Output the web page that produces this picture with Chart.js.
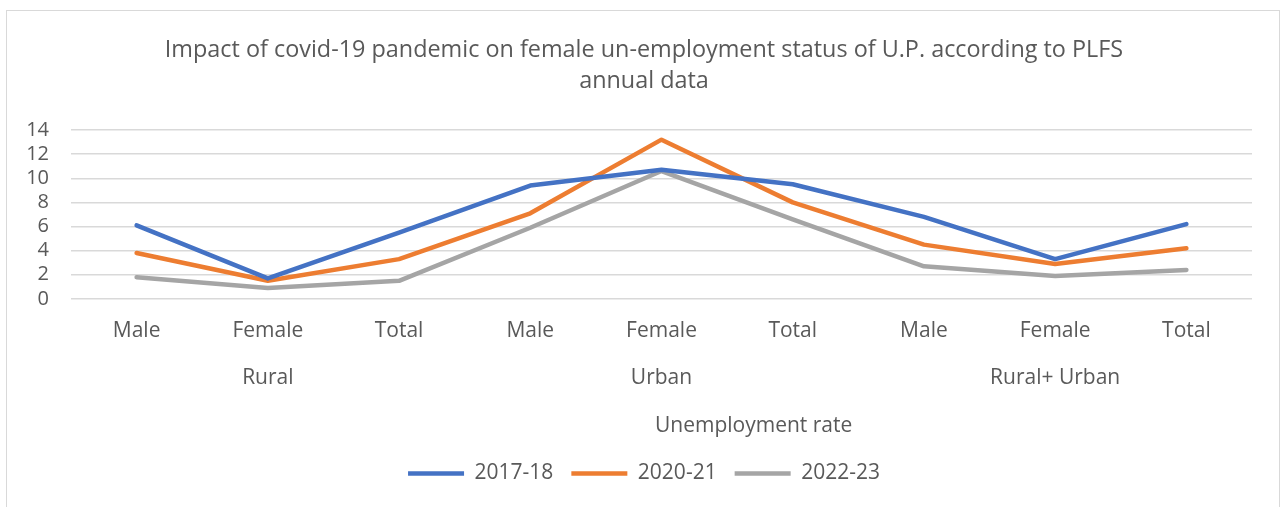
<!DOCTYPE html>
<html>
<head>
<meta charset="utf-8">
<script src="https://cdn.jsdelivr.net/npm/chart.js@4/dist/chart.umd.min.js"></script>
<style>
  html, body { margin: 0; padding: 0; background: #fff; }
  #box {
    position: absolute; left: 6px; top: 10px;
    width: 1272px; height: 520px;
    border: 1px solid #d9d9d9;
  }
</style>
</head>
<body>
<div id="box"><canvas id="chart"></canvas></div>
<script>
// Unemployment rate (%) by area and sex, PLFS annual rounds
const years = ['2017-18', '2020-21', '2022-23'];
const subCategories = ['Male', 'Female', 'Total', 'Male', 'Female', 'Total', 'Male', 'Female', 'Total'];
const groups = ['Rural', 'Urban', 'Rural+ Urban'];
const rate2017 = [6.1, 1.7, 5.5, 9.4, 10.7, 9.5, 6.8, 3.3, 6.2];
const rate2020 = [3.8, 1.5, 3.3, 7.1, 13.2, 8.0, 4.5, 2.9, 4.2];
const rate2022 = [1.8, 0.9, 1.5, 5.9, 10.6, 6.6, 2.7, 1.9, 2.4];
const colors = ['#4472C4', '#ED7D31', '#A5A5A5'];
const axisTitle = 'Unemployment rate';

// two-row category labels: sub category, group name under the middle one
const labels = subCategories.map((s, i) => [s, i % 3 === 1 ? groups[Math.floor(i / 3)] : '']);

const textColor = '#595959';
const fontFamily = '"Open Sans", sans-serif';

// draws the x axis title in the space added by afterFit
const axisTitlePlugin = {
    id: 'axisTitle',
    afterDraw(chart) {
        const xs = chart.scales.x;
        const ctx = chart.ctx;
        ctx.save();
        ctx.font = '21px ' + fontFamily;
        ctx.fillStyle = textColor;
        ctx.textAlign = 'center';
        ctx.textBaseline = 'middle';
        ctx.fillText(axisTitle, xs.left + xs.width * 0.578, xs.bottom - 19);
        ctx.restore();
    }
};

const seriesData = [rate2017, rate2020, rate2022];

new Chart(document.getElementById('chart').getContext('2d'), {
    type: 'line',
    data: {
        labels: labels,
        datasets: years.map((y, i) => ({
            label: y,
            data: seriesData[i],
            borderColor: colors[i],
            backgroundColor: colors[i],
            borderWidth: 4.5,
            borderCapStyle: 'round',
            borderJoinStyle: 'round',
            pointRadius: 0,
            tension: 0
        }))
    },
    options: {
        responsive: true,
        maintainAspectRatio: false,
        animation: false,
        layout: {
            padding: { left: 18, right: 16, top: 0, bottom: 37 }
        },
        plugins: {
            title: {
                display: true,
                text: ['Impact of covid-19 pandemic on female un-employment status of U.P. according to PLFS', 'annual data'],
                color: textColor,
                font: { family: fontFamily, size: 23.4, weight: 'normal', lineHeight: 1.325 },
                padding: { top: 24, bottom: 33 }
            },
            legend: {
                position: 'bottom',
                labels: {
                    color: textColor,
                    font: { family: fontFamily, size: 21 },
                    usePointStyle: true,
                    pointStyle: 'line',
                    pointStyleWidth: 56,
                    boxHeight: 8,
                    padding: 18
                }
            },
            tooltip: { enabled: false }
        },
        scales: {
            x: {
                offset: true,
                grid: { display: false, drawTicks: false },
                border: { display: false },
                ticks: {
                    color: textColor,
                    font: { family: fontFamily, size: 21, lineHeight: 2.24 },
                    padding: 9,
                    maxRotation: 0,
                    autoSkip: false
                },
                afterFit: s => { s.height += 34; }
            },
            y: {
                min: 0,
                max: 14,
                ticks: {
                    stepSize: 2,
                    autoSkip: false,
                    color: textColor,
                    font: { family: fontFamily, size: 20 },
                    padding: 22
                },
                grid: { color: '#d9d9d9', lineWidth: 1.5, drawTicks: false },
                border: { display: false },
                afterFit: s => { s.width = 46; }
            },
            // empty spacer on the right so the plot ends where the original does
            spacer: {
                type: 'linear',
                position: 'right',
                grid: { display: false, drawTicks: false },
                border: { display: false },
                ticks: { display: false },
                afterFit: s => { s.width = 11; }
            }
        }
    },
    plugins: [axisTitlePlugin]
});
</script>
</body>
</html>
